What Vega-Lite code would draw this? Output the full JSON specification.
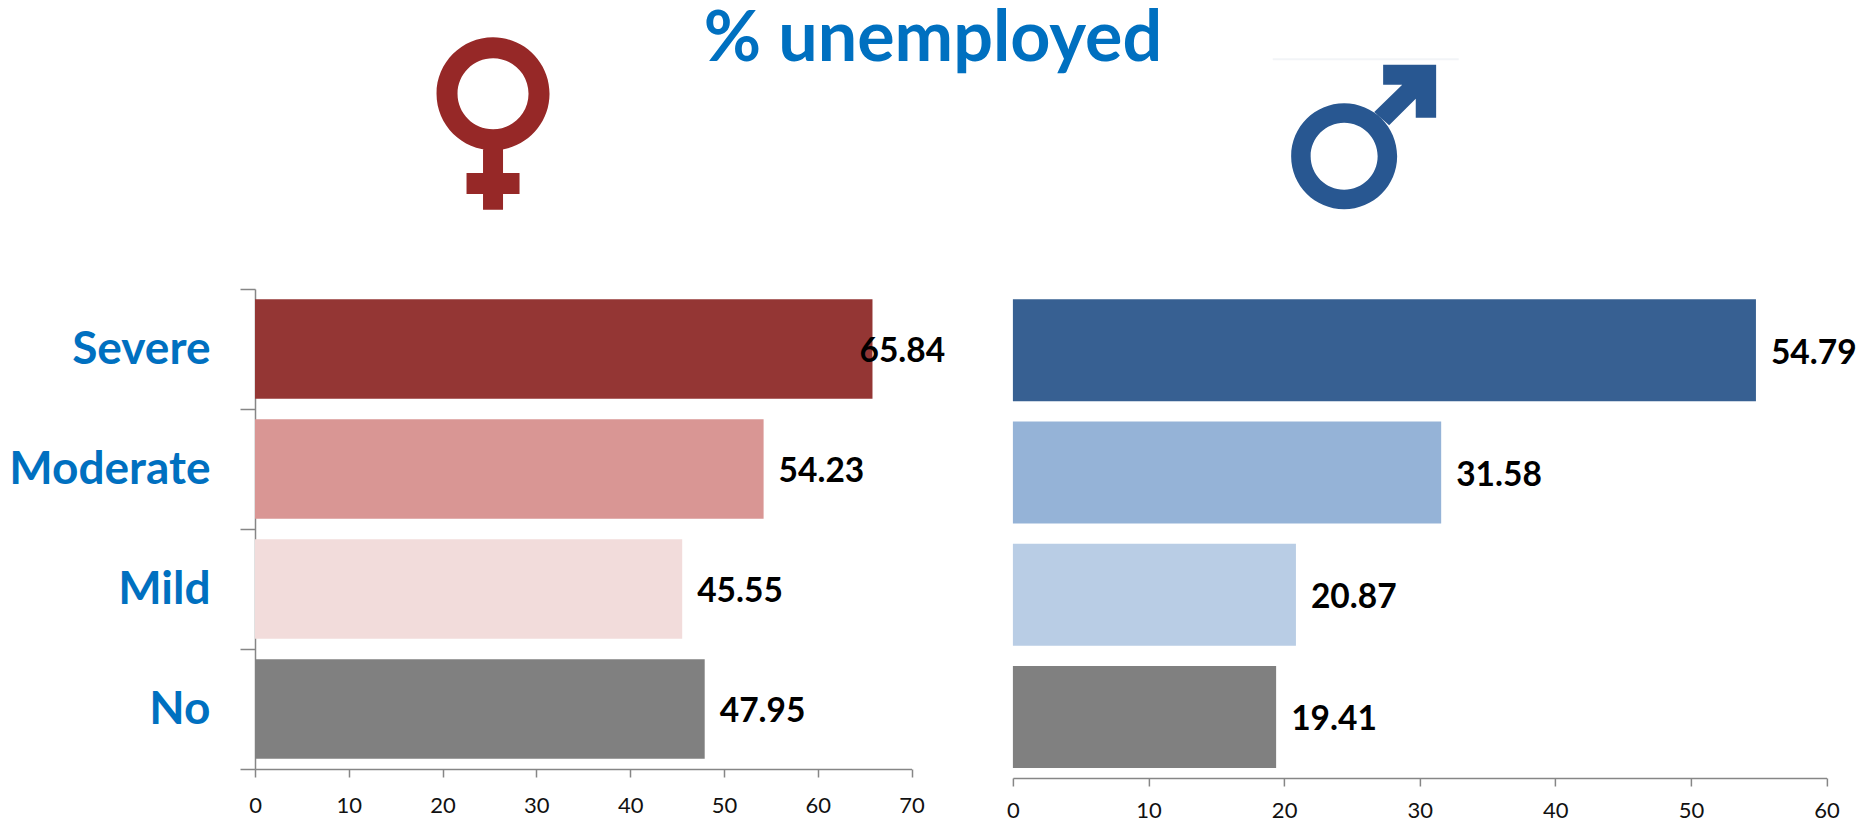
{
"$schema":"https://vega.github.io/schema/vega-lite/v6.json",
"padding":{"left":8,"top":5,"right":0,"bottom":0},
"background":"white",
"config":{"view":{"stroke":null},"font":"Lato"},
"title":{"text":"% unemployed","font":"Lato","fontSize":70,"fontWeight":"bold","color":"#0070C0","anchor":"middle","frame":"group","offset":-39,"dx":678},
"datasets":{
"female":[{"severity":"Severe","pct":65.84},{"severity":"Moderate","pct":54.23},{"severity":"Mild","pct":45.55},{"severity":"No","pct":47.95}],
"male":[{"severity":"Severe","pct":54.79},{"severity":"Moderate","pct":31.58},{"severity":"Mild","pct":20.87},{"severity":"No","pct":19.41}]},
"resolve":{"scale":{"color":"independent"}},
"hconcat":[
{"width":656.5,"height":480,"data":{"name":"female"},
"encoding":{"y":{"field":"severity","type":"nominal","sort":["Severe","Moderate","Mild","No"],"title":null,
"scale":{"domain":["Severe","Moderate","Mild","No"],"paddingInner":0,"paddingOuter":0},
"axis":{"tickBand":"extent","domainColor":"#868686","domainWidth":1.5,"tickColor":"#868686","tickWidth":1.5,"tickSize":15,"labelPadding":30,"labelFont":"Lato","labelFontSize":46,"labelFontWeight":"bold","labelColor":"#0070C0","labelLimit":400}},
"x":{"field":"pct","type":"quantitative","title":null,"scale":{"domain":[0,70],"nice":false},
"axis":{"values":[0,10,20,30,40,50,60,70],"grid":false,"domainColor":"#868686","domainWidth":1.5,"tickColor":"#868686","tickWidth":1.5,"tickSize":8,"labelPadding":18,"labelFlush":false,"labelFont":"Lato","labelFontSize":22,"labelColor":"#111111","labelOverlap":false}}},
"layer":[
{"mark":{"type":"bar","size":99.6},"encoding":{"color":{"field":"severity","type":"nominal","legend":null,"scale":{"domain":["Severe","Moderate","Mild","No"],"range":["#943634","#D99694","#F2DCDB","#808080"]}}}},
{"transform":[{"filter":"datum.pct<60"}],"mark":{"type":"text","align":"left","dx":15,"dy":3,"font":"Lato","fontSize":33.5,"fontWeight":"bold","color":"#000000"},"encoding":{"text":{"field":"pct","type":"quantitative","format":".2f"}}},
{"transform":[{"filter":"datum.pct>=60"}],"mark":{"type":"text","align":"left","dx":-13,"dy":3,"font":"Lato","fontSize":33.5,"fontWeight":"bold","color":"#000000"},"encoding":{"text":{"field":"pct","type":"quantitative","format":".2f"}}},
{"data":{"values":[{"symbol":"female","severity":"Severe","pct":25.38}]},"mark":{"type":"point","filled":true,"opacity":1,"color":"#962827","size":40000,"yOffset":-225.7,"clip":false,"shape":"M0,-0.86 A0.565,0.565 0 1,1 0,0.27 A0.565,0.565 0 1,1 0,-0.86 Z M0,-0.65 A0.355,0.355 0 1,0 0,0.06 A0.355,0.355 0 1,0 0,-0.65 Z M-0.1,0.26 L0.1,0.26 L0.1,0.497 L0.265,0.497 L0.265,0.707 L0.1,0.707 L0.1,0.865 L-0.1,0.865 L-0.1,0.707 L-0.265,0.707 L-0.265,0.497 L-0.1,0.497 Z"}}
]},
{"width":813.7,"height":489,"data":{"name":"male"},
"encoding":{"y":{"field":"severity","type":"nominal","sort":["Severe","Moderate","Mild","No"],"title":null,
"scale":{"domain":["Severe","Moderate","Mild","No"],"paddingInner":0,"paddingOuter":0},"axis":null},
"x":{"field":"pct","type":"quantitative","title":null,"scale":{"domain":[0,60],"nice":false},
"axis":{"values":[0,10,20,30,40,50,60],"grid":false,"domainColor":"#868686","domainWidth":1.5,"tickColor":"#868686","tickWidth":1.5,"tickSize":8,"labelPadding":14,"labelFlush":false,"labelFont":"Lato","labelFontSize":22,"labelColor":"#111111","labelOverlap":false}}},
"layer":[
{"mark":{"type":"bar","size":102},"encoding":{"color":{"field":"severity","type":"nominal","legend":null,"scale":{"domain":["Severe","Moderate","Mild","No"],"range":["#376092","#95B3D7","#B9CDE5","#808080"]}}}},
{"mark":{"type":"text","align":"left","dx":15,"dy":3.5,"font":"Lato","fontSize":33.5,"fontWeight":"bold","color":"#000000"},"encoding":{"text":{"field":"pct","type":"quantitative","format":".2f"}}},
{"data":{"values":[{"symbol":"line","severity":"Severe","pct":19.16,"end":32.87}]},"mark":{"type":"rule","stroke":"#F2F4F7","strokeWidth":2,"yOffset":-290.8},"encoding":{"x2":{"field":"end"}}},
{"data":{"values":[{"symbol":"male","severity":"Severe","pct":25.87}]},"mark":{"type":"point","filled":true,"opacity":1,"color":"#285791","size":40000,"yOffset":-212.8,"clip":false,"shape":"M-0.196,-0.34 A0.53,0.53 0 1,1 -0.196,0.72 A0.53,0.53 0 1,1 -0.196,-0.34 Z M-0.196,-0.145 A0.335,0.335 0 1,0 -0.196,0.525 A0.335,0.335 0 1,0 -0.196,-0.145 Z M0.105,-0.253 L0.385,-0.527 L0.194,-0.527 L0.194,-0.727 L0.724,-0.727 L0.724,-0.197 L0.52,-0.197 L0.52,-0.387 L0.254,-0.12 Z"}}
]}
],
"spacing":100.9,
"bounds":"flush"
}
